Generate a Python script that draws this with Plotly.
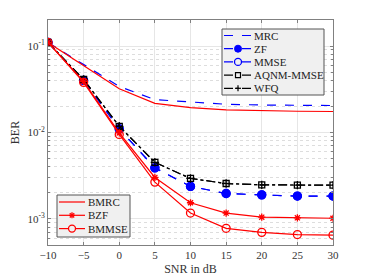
import plotly.graph_objects as go
import numpy as np

snr = [-10, -5, 0, 5, 10, 15, 20, 25, 30]
mrc = [0.11, 0.061, 0.034, 0.024, 0.0225, 0.0212, 0.0208, 0.0206, 0.0205]
zf = [0.11, 0.040, 0.011, 0.0039, 0.00238, 0.00197, 0.0019, 0.00184, 0.00184]
mmse = [0.11, 0.040, 0.011, 0.0039, 0.00238, 0.00197, 0.0019, 0.00184, 0.00184]
aqnm = [0.11, 0.041, 0.0118, 0.00452, 0.00294, 0.00257, 0.00248, 0.00246, 0.00246]
wfq = [0.11, 0.041, 0.0118, 0.00452, 0.00294, 0.00257, 0.00248, 0.00246, 0.00246]
bmrc = [0.11, 0.060, 0.032, 0.0217, 0.0194, 0.0183, 0.0178, 0.0176, 0.0175]
bzf = [0.11, 0.039, 0.0099, 0.00302, 0.00154, 0.00117, 0.00105, 0.00103, 0.00102]
bmmse = [0.11, 0.038, 0.0095, 0.00267, 0.00117, 0.00078, 0.0007, 0.00066, 0.00065]

xticks = [-10, -5, 0, 5, 10, 15, 20, 25, 30]
yticks = [1e-3, 1e-2, 1e-1]
yticklabels = ["10<sup>-3</sup>", "10<sup>-2</sup>", "10<sup>-1</sup>"]
minor_y = [m * 10.0 ** e for e in (-4, -3, -2, -1) for m in range(2, 10)]

BLUE = "#0000ff"
RED = "#ff0000"
FONT = "Liberation Serif, Times New Roman, serif"

# page body has an 8px default margin: size the figure so it fits the window
OFF = 8
W, H = 368 - OFF, 276 - OFF
ML, MR, MT, MB = 48 - OFF, 35, 20 - OFF, 31
PW = W - ML - MR
PH = H - MT - MB

fig = go.Figure()

series = [
    ("MRC", mrc, BLUE, "dash", None),
    ("ZF", zf, BLUE, "dash", "circle"),
    ("MMSE", mmse, BLUE, "dash", "circle-open"),
    ("AQNM-MMSE", aqnm, "black", "dashdot", "square-open"),
    ("WFQ", wfq, "black", "dashdot", "cross-thin-open"),
    ("BMRC", bmrc, RED, "solid", None),
    ("BZF", bzf, RED, "solid", "asterisk-open"),
    ("BMMSE", bmmse, RED, "solid", "circle-open"),
]
msize = {"circle": 8, "circle-open": 8, "square-open": 6, "cross-thin-open": 6, "asterisk-open": 6}

for name, ys, col, dash, sym in series:
    kw = {}
    if sym:
        kw["marker"] = dict(symbol=sym, size=msize[sym], color=col, line=dict(width=1.3, color=col))
    fig.add_trace(go.Scatter(x=snr, y=ys, name=name, mode="lines+markers" if sym else "lines",
                             line=dict(color=col, width=1.2, dash=dash), showlegend=False, **kw))

# ---- custom MATLAB-style legends (positions given in reference-window pixels)
def fx(px):
    return (px - OFF - ML) / PW

def fy(py):
    return (H - MB - (py - OFF)) / PH

shapes = []
annotations = []

def legend_box(x0, y0, x1, y1, entries, line_x0, line_x1, text_x, row_y0, row_dy):
    shapes.append(dict(type="rect", xref="paper", yref="paper", x0=fx(x0), x1=fx(x1),
                       y0=fy(y1), y1=fy(y0), fillcolor="#f0f0f0",
                       line=dict(color="#555555", width=1), layer="above"))
    for i, (name, col, dash, mk) in enumerate(entries):
        yy = fy(row_y0 + i * row_dy)
        shapes.append(dict(type="line", xref="paper", yref="paper", x0=fx(line_x0), x1=fx(line_x1),
                           y0=yy, y1=yy, line=dict(color=col, width=1.2, dash=dash), layer="above"))
        cx = fx((line_x0 + line_x1) / 2)
        base = dict(xref="paper", yref="paper", xsizemode="pixel", ysizemode="pixel",
                    xanchor=cx, yanchor=yy, layer="above")
        if mk == "dot":
            shapes.append(dict(type="circle", x0=-3.5, x1=3.5, y0=-3.5, y1=3.5, fillcolor=col,
                               line=dict(color=col, width=1), **base))
        elif mk == "ring":
            shapes.append(dict(type="circle", x0=-3.5, x1=3.5, y0=-3.5, y1=3.5, fillcolor="#f0f0f0",
                               line=dict(color=col, width=1.3), **base))
        elif mk == "square":
            shapes.append(dict(type="rect", x0=-2.5, x1=2.5, y0=-2.5, y1=2.5, fillcolor="#f0f0f0",
                               line=dict(color=col, width=1.2), **base))
        elif mk == "plus":
            shapes.append(dict(type="line", x0=-3, x1=3, y0=0, y1=0, line=dict(color=col, width=1.2), **base))
            shapes.append(dict(type="line", x0=0, x1=0, y0=-3, y1=3, line=dict(color=col, width=1.2), **base))
        elif mk == "star":
            for (a, b) in [((-3, 0), (3, 0)), ((0, -3), (0, 3)), ((-2.2, -2.2), (2.2, 2.2)), ((-2.2, 2.2), (2.2, -2.2))]:
                shapes.append(dict(type="line", x0=a[0], x1=b[0], y0=a[1], y1=b[1],
                                   line=dict(color=col, width=1.3), **base))
        annotations.append(dict(xref="paper", yref="paper", x=fx(text_x), y=yy, text=name,
                                showarrow=False, xanchor="left", yanchor="middle",
                                font=dict(family=FONT, size=11, color="#222222")))

legend_box(222, 29, 324, 95,
           [("MRC", BLUE, "dash", None), ("ZF", BLUE, "dash", "dot"), ("MMSE", BLUE, "dash", "ring"),
            ("AQNM-MMSE", "black", "dashdot", "square"), ("WFQ", "black", "dashdot", "plus")],
           224, 252, 252, 35.5, 13.2)
legend_box(57, 195, 130, 237,
           [("BMRC", RED, "solid", None), ("BZF", RED, "solid", "star"), ("BMMSE", RED, "solid", "ring")],
           59, 85, 86, 202, 13.3)

axis_common = dict(showline=True, linecolor="#808080", linewidth=1, mirror="ticks",
                   ticks="inside", ticklen=3, tickcolor="#808080", automargin=False,
                   showgrid=True, gridcolor="#e6e6e6", gridwidth=1, zeroline=False,
                   tickfont=dict(family=FONT, size=11, color="#333"))

fig.update_xaxes(range=[-10, 30], tickvals=xticks,
                 title=dict(text="SNR in dB", font=dict(family=FONT, size=12, color="#333"), standoff=6),
                 **axis_common)
fig.update_yaxes(type="log", range=[np.log10(5e-4), np.log10(0.2)],
                 tickvals=yticks, ticktext=yticklabels,
                 title=dict(text="BER", font=dict(family=FONT, size=12, color="#333"), standoff=8),
                 minor=dict(tickvals=minor_y, showgrid=True, gridcolor="#dddddd", griddash="dot",
                            ticks="inside", ticklen=2, tickcolor="#808080"),
                 **axis_common)

fig.update_layout(
    width=W, height=H,
    margin=dict(l=ML, r=MR, t=MT, b=MB, autoexpand=False),
    paper_bgcolor="white", plot_bgcolor="white",
    showlegend=False,
    shapes=shapes, annotations=annotations,
)

fig.write_html("out.html")
